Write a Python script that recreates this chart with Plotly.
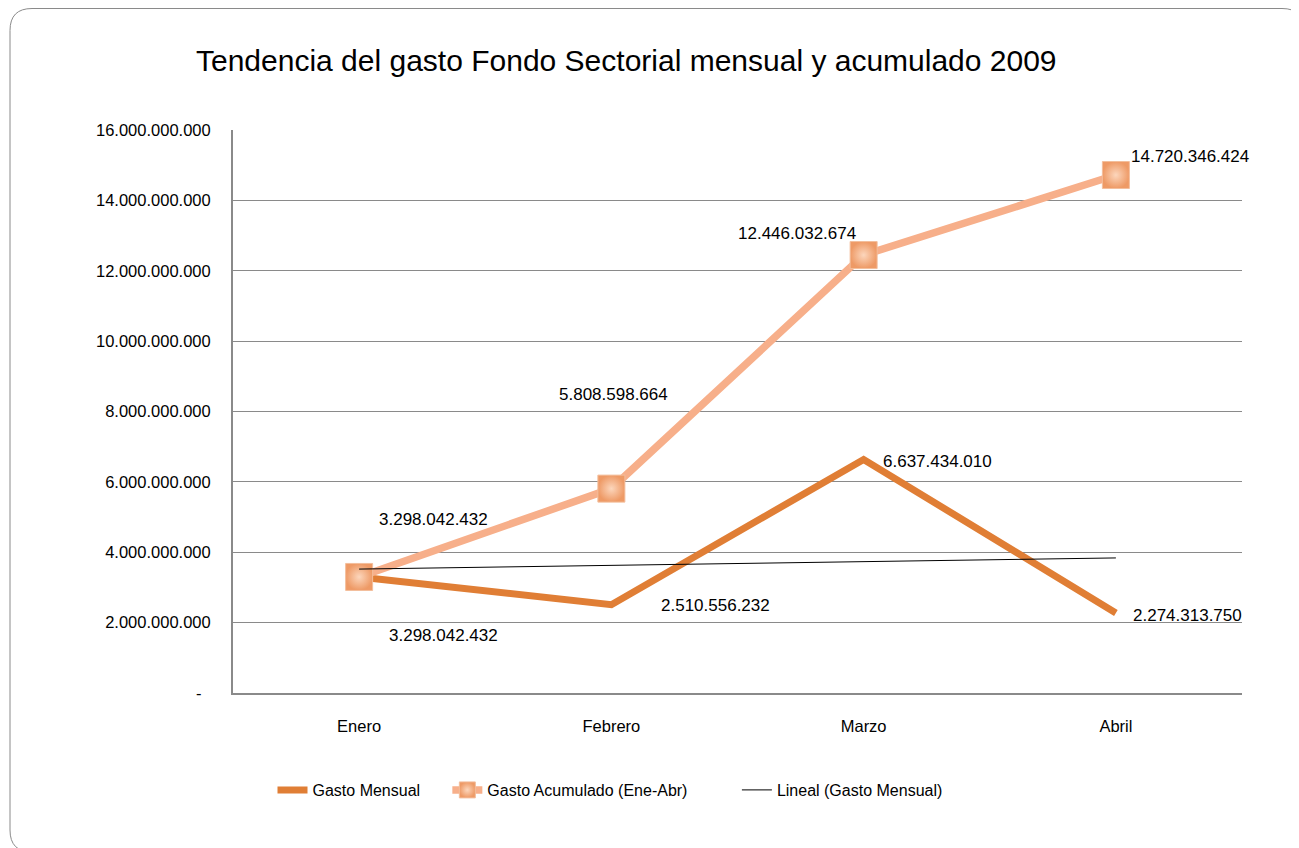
import numpy as np
import plotly.graph_objects as go

meses = ["Enero", "Febrero", "Marzo", "Abril"]
gasto_mensual = [3298042432, 2510556232, 6637434010, 2274313750]
gasto_acumulado = [3298042432, 5808598664, 12446032674, 14720346424]
y_ticks = [0, 2e9, 4e9, 6e9, 8e9, 10e9, 12e9, 14e9, 16e9]

def fmt(v):
    return f"{int(round(v)):,}".replace(",", ".")

tick_text = ["-" + "\u00a0" * 2 if v == 0 else fmt(v) for v in y_ticks]

# linear trendline of monthly spending
xi = np.arange(1, len(meses) + 1)
slope, intercept = np.polyfit(xi, gasto_mensual, 1)
trend = slope * xi + intercept

W, H = 1299, 848
L, R, T, B = 225, 65, 122, 163
PW, PH = W - L - R, H - T - B

LBL = "Liberation Sans, Arial, sans-serif"

fig = go.Figure()
fig.add_trace(go.Scatter(
    x=meses, y=gasto_mensual, name="Gasto Mensual" + "\u00a0" * 5, mode="lines",
    line=dict(color="#E07E35", width=7)))
fig.add_trace(go.Scatter(
    x=meses, y=gasto_acumulado, name="Gasto Acumulado (Ene-Abr)" + "\u00a0" * 10,
    mode="lines+markers",
    line=dict(color="#F7AF8A", width=7.5),
    marker=dict(symbol="square", size=27, color="#EE9A66",
                gradient=dict(type="radial", color="#FCD6BC"),
                line=dict(color="#F3BE9C", width=1))))
fig.add_trace(go.Scatter(
    x=meses, y=trend, name="Lineal (Gasto Mensual)", mode="lines",
    line=dict(color="black", width=1)))

# data labels
acc_shift = [(74, 57), (2, 94), (-67, 22), (74, 19)]
men_shift = [(84, -59), (104, -1), (74, -2), (72, -3)]
for i, m in enumerate(meses):
    dx, dy = acc_shift[i]
    fig.add_annotation(x=m, y=gasto_acumulado[i], text=fmt(gasto_acumulado[i]),
                       showarrow=False, xshift=dx, yshift=dy,
                       font=dict(family=LBL, size=17, color="black"))
    dx, dy = men_shift[i]
    fig.add_annotation(x=m, y=gasto_mensual[i], text=fmt(gasto_mensual[i]),
                       showarrow=False, xshift=dx, yshift=dy,
                       font=dict(family=LBL, size=17, color="black"))

# title
fig.add_annotation(xref="paper", yref="paper", x=(618 - L) / PW, y=(H - B - 52) / PH,
                   text="Tendencia del gasto Fondo Sectorial mensual y acumulado 2009",
                   showarrow=False, xanchor="center", yanchor="middle",
                   font=dict(family=LBL, size=30, color="black"))

# rounded outer border
def px(xp):
    return (xp - L) / PW
def py(yp):
    return (H - B - yp) / PH
x0, y0, x1, y1, r = 2, 0.5, 1296, 844, 22
path = (f"M {px(x0 + r)},{py(y0)} L {px(x1 - r)},{py(y0)} Q {px(x1)},{py(y0)} {px(x1)},{py(y0 + r)} "
        f"L {px(x1)},{py(y1 - r)} Q {px(x1)},{py(y1)} {px(x1 - r)},{py(y1)} "
        f"L {px(x0 + r)},{py(y1)} Q {px(x0)},{py(y1)} {px(x0)},{py(y1 - r)} "
        f"L {px(x0)},{py(y0 + r)} Q {px(x0)},{py(y0)} {px(x0 + r)},{py(y0)} Z")
fig.add_shape(type="path", xref="paper", yref="paper", path=path,
              line=dict(color="#8a8a8a", width=1), layer="below")

fig.update_layout(
    width=W, height=H,
    margin=dict(l=L, r=R, t=T, b=B),
    paper_bgcolor="white", plot_bgcolor="white",
    font=dict(family=LBL, size=16, color="black"),
    showlegend=True,
    legend=dict(orientation="h", x=(602 - L) / PW, y=(H - B - 782) / PH,
                xanchor="center", yanchor="middle",
                font=dict(family=LBL, size=16), itemwidth=30),
    xaxis=dict(type="category", range=[-0.5, 3.5], showgrid=False,
               showline=True, linecolor="#8a8a8a", linewidth=2,
               ticks="outside", ticklen=17, tickcolor="rgba(0,0,0,0)",
               tickfont=dict(family=LBL, size=16.5), zeroline=False),
    yaxis=dict(range=[0, 16e9], tickvals=y_ticks, ticktext=tick_text,
               showgrid=True, gridcolor="#8a8a8a", gridwidth=1,
               showline=True, linecolor="#8a8a8a", linewidth=2,
               ticks="outside", ticklen=17, tickcolor="rgba(0,0,0,0)",
               tickfont=dict(family=LBL, size=16.5), zeroline=False),
)

fig.write_html("out.html")
